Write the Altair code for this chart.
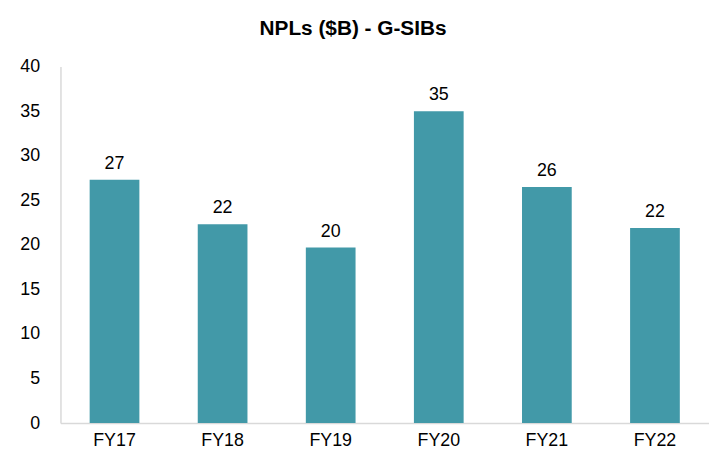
import altair as alt
import pandas as pd

years = ["FY17", "FY18", "FY19", "FY20", "FY21", "FY22"]
npls = [27.3, 22.3, 19.7, 35.0, 26.5, 21.9]
labels = ["27", "22", "20", "35", "26", "22"]

df = pd.DataFrame({"year": years, "npl": npls, "label": labels})

base = alt.Chart(df).encode(
    x=alt.X("year:N", sort=years, title=None,
            scale=alt.Scale(paddingInner=0.54, paddingOuter=0.27),
            axis=alt.Axis(labelAngle=0, labelFontSize=18, labelColor="#000000",
                          labelFont="Liberation Sans", ticks=False, labelPadding=9,
                          domainColor="#d9d9d9", domainWidth=1.5)),
    y=alt.Y("npl:Q", title=None,
            scale=alt.Scale(domain=[0, 40]),
            axis=alt.Axis(values=[0, 5, 10, 15, 20, 25, 30, 35, 40], grid=False,
                          ticks=False, labelFontSize=18, labelColor="#000000",
                          labelFont="Liberation Sans", labelPadding=21,
                          domainColor="#d9d9d9", domainWidth=1.5)),
)

bars = base.mark_bar(color="#4299a8")
text = base.mark_text(baseline="alphabetic", dy=-11, fontSize=18,
                      font="Liberation Sans", color="#000000").encode(text="label:N")

chart = (bars + text).properties(
    width=655, height=360,
    title=alt.TitleParams("NPLs ($B) - G-SIBs", font="Liberation Sans", fontSize=21,
                          fontWeight="bold", color="#000000", anchor="middle",
                          dx=-32, offset=19),
    padding={"left": 53, "top": 57, "right": 0, "bottom": 24},
    autosize=alt.AutoSizeParams(type="none"),
).configure_view(stroke=None)

chart.save("out.html", embed_options={"renderer": "svg", "actions": False})
